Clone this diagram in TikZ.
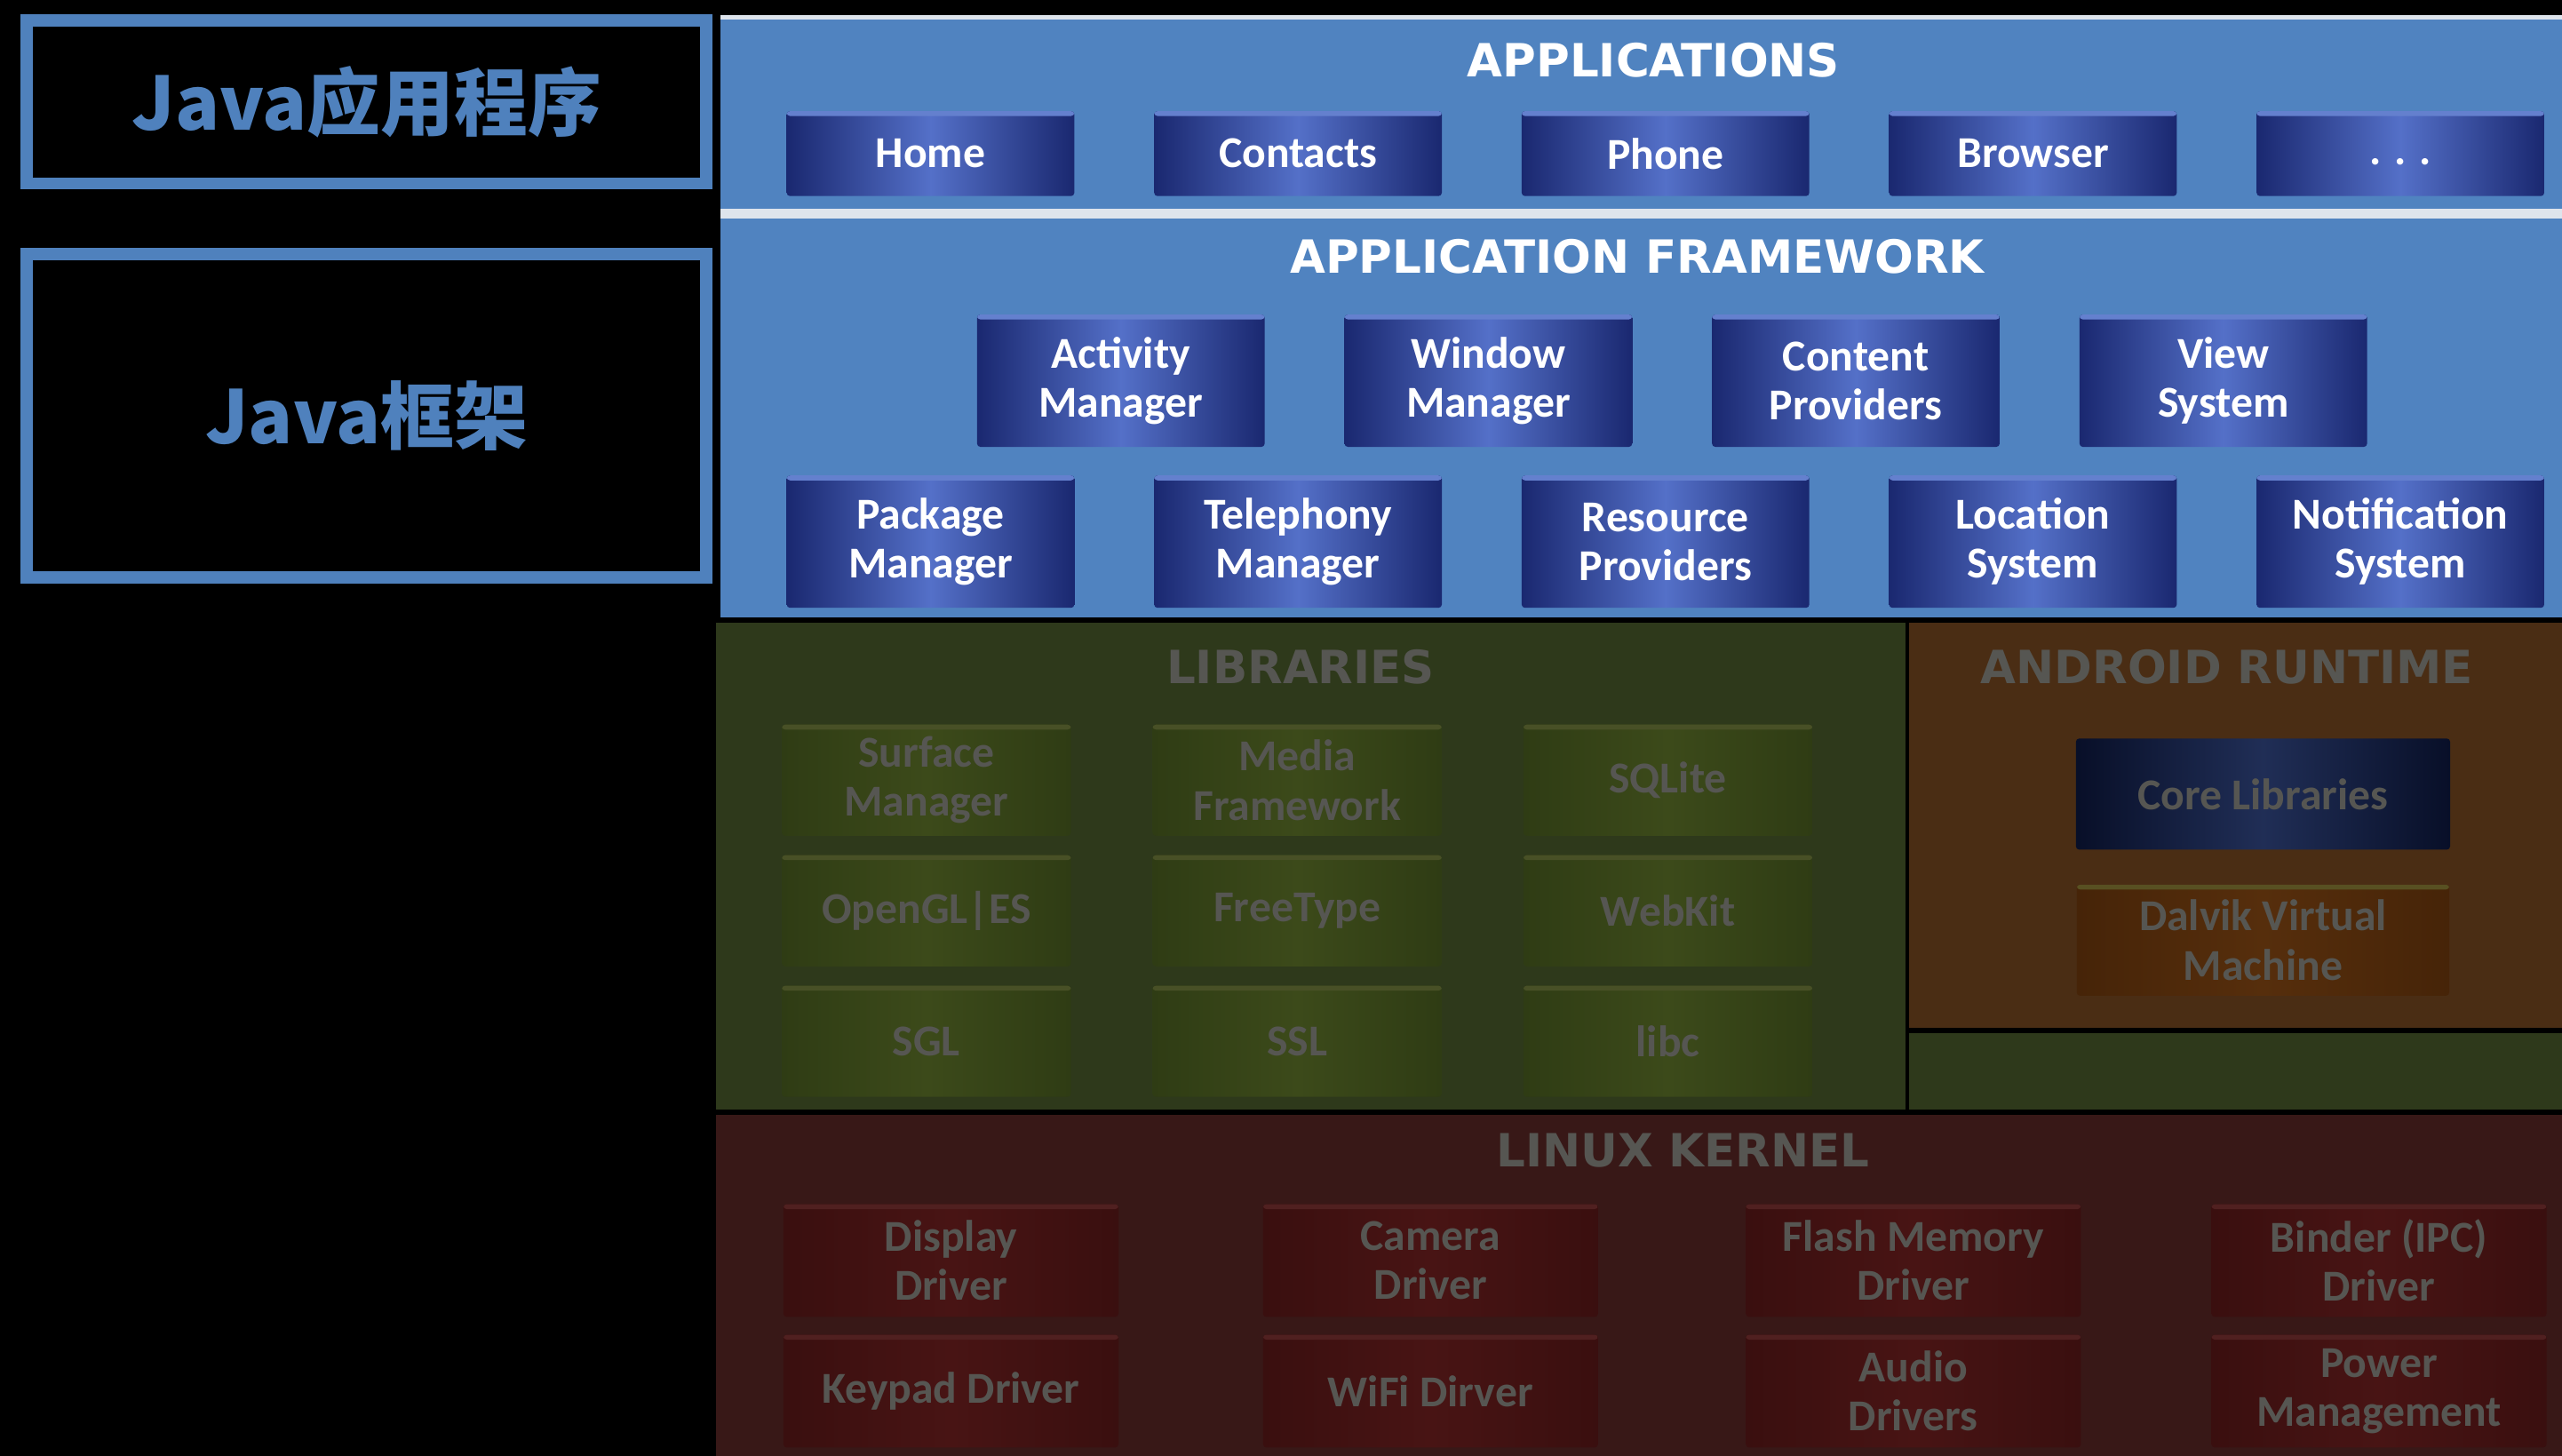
\documentclass[tikz,border=0pt]{standalone}
\usepackage{fontspec}
\setmainfont{Carlito}
\newfontfamily\headfont{DejaVu Sans}
\newfontfamily\cjkfont{Noto Sans CJK SC}
\usetikzlibrary{positioning}

\definecolor{javablue}{RGB}{79,129,189}
\definecolor{panelblue}{RGB}{80,131,192}
\definecolor{sepgray}{RGB}{222,228,236}
\definecolor{btnedge}{RGB}{26,40,112}
\definecolor{btnmid}{RGB}{84,112,200}
\definecolor{btntop}{RGB}{100,128,206}
\definecolor{libbg}{RGB}{46,57,27}
\definecolor{libedge}{RGB}{47,60,20}
\definecolor{libmid}{RGB}{60,74,26}
\definecolor{libtop}{RGB}{72,80,38}
\definecolor{rtbg}{RGB}{74,45,20}
\definecolor{coreedge}{RGB}{8,15,40}
\definecolor{coremid}{RGB}{32,46,86}
\definecolor{dvkedge}{RGB}{70,36,8}
\definecolor{dvkmid}{RGB}{86,46,12}
\definecolor{dvktop}{RGB}{88,80,34}
\definecolor{kernbg}{RGB}{56,24,23}
\definecolor{kernedge}{RGB}{58,15,15}
\definecolor{kernmid}{RGB}{72,20,20}
\definecolor{kerntop}{RGB}{80,32,32}
\definecolor{dimtext}{RGB}{86,86,82}

\tikzset{
  javabox/.style={
    draw=javablue,
    line width=7.5pt,
    fill=black,
    text=javablue,
    font=\cjkfont\bfseries\fontsize{45}{48}\selectfont
  },
  title/.style={
    inner sep=0pt,
    font=\headfont\bfseries\fontsize{28}{30}\selectfont
  },
  btn/.style={
    rectangle,
    rounded corners=2pt,
    inner sep=0pt,
    align=center,
    font=\bfseries\fontsize{27}{30}\selectfont
  },
  toplight/.style={
    path picture={
      \fill[#1] (path picture bounding box.north west)
        rectangle ([yshift=-3pt]path picture bounding box.north east);
    }
  },
  appbtn/.style={
    btn,
    minimum width=176pt,
    minimum height=52pt,
    text=white,
    left color=btnedge,
    right color=btnedge,
    middle color=btnmid,
    toplight=btntop
  },
  fwbtn/.style={
    appbtn,
    minimum height=81pt
  },
  libbtn/.style={
    btn,
    minimum width=177pt,
    minimum height=68pt,
    text=dimtext,
    left color=libedge,
    right color=libedge,
    middle color=libmid,
    toplight=libtop
  },
  corebtn/.style={
    btn,
    minimum width=229pt,
    minimum height=68pt,
    text=dimtext,
    left color=coreedge,
    right color=coreedge,
    middle color=coremid
  },
  dvkbtn/.style={
    btn,
    minimum width=228pt,
    minimum height=68pt,
    text=dimtext,
    left color=dvkedge,
    right color=dvkedge,
    middle color=dvkmid,
    toplight=dvktop
  },
  kernbtn/.style={
    btn,
    minimum width=205pt,
    minimum height=69pt,
    text=dimtext,
    left color=kernedge,
    right color=kernedge,
    middle color=kernmid,
    toplight=kerntop
  }
}

\begin{document}
\begin{tikzpicture}[x=1pt, y=1pt, node distance=11pt and 48.5pt]

\useasboundingbox (0,0) rectangle (1568,-891);
\fill[black] (0,0) rectangle (1568,-891);

\node[javabox, minimum width=416pt, minimum height=100pt] (japps) at (224.4,-62.3) {Java应用程序};
\node[javabox, minimum width=416pt, minimum height=197.6pt] (jframe) at (224.4,-254.5) {Java框架};

\fill[panelblue] (441,-12) rectangle (1568,-128);
\fill[sepgray] (441,-9.5) rectangle (1568,-12);
\fill[sepgray] (441,-128) rectangle (1568,-133.5);
\fill[panelblue] (441,-133.5) rectangle (1568,-378);
\fill[libbg] (438,-381) rectangle (1166,-679);
\fill[rtbg] (1168.5,-381) rectangle (1568,-629);
\fill[libbg] (1168.5,-632.5) rectangle (1568,-679);
\fill[kernbg] (438,-682.5) rectangle (1568,-891);

\node[title, text=white] (appstitle) at (1012,-37) {APPLICATIONS};
\node[title, text=white] (fwtitle) at (1002,-157) {APPLICATION FRAMEWORK};
\node[title, text=dimtext] (libtitle) at (796,-408) {LIBRARIES};
\node[title, text=dimtext] (rttitle) at (1363,-408) {ANDROID RUNTIME};
\node[title, text=dimtext] (kerntitle) at (1030,-704) {LINUX KERNEL};

\node[appbtn] (home) at (569.5,-94) {Home};
\node[appbtn, right=of home] (contacts) {Contacts};
\node[appbtn, right=of contacts] (phone) {Phone};
\node[appbtn, right=of phone] (browser) {Browser};
\node[appbtn, right=of browser] (more) {\vphantom{Hp}. . .};

\node[fwbtn] (activity) at (686,-233) {Activity\\Manager};
\node[fwbtn, right=of activity] (window) {Window\\Manager};
\node[fwbtn, right=of window] (content) {Content\\Providers};
\node[fwbtn, right=of content] (view) {View\\System};

\node[fwbtn] (package) at (569.5,-331.5) {Package\\Manager};
\node[fwbtn, right=of package] (telephony) {Telephony\\Manager};
\node[fwbtn, right=of telephony] (resource) {Resource\\Providers};
\node[fwbtn, right=of resource] (location) {Location\\System};
\node[fwbtn, right=of location] (notification) {Notification\\System};

\node[libbtn] (surface) at (567,-477.5) {Surface\\Manager};
\node[libbtn, right=49.5pt of surface] (media) {Media\\Framework};
\node[libbtn, right=49.5pt of media] (sqlite) {SQLite};
\node[libbtn, below=11.5pt of surface] (opengl) {OpenGL|ES};
\node[libbtn, below=11.5pt of media] (freetype) {FreeType};
\node[libbtn, below=11.5pt of sqlite] (webkit) {WebKit};
\node[libbtn, below=11.5pt of opengl] (sgl) {SGL};
\node[libbtn, below=11.5pt of freetype] (ssl) {SSL};
\node[libbtn, below=11.5pt of webkit] (libc) {libc};

\node[corebtn] (core) at (1385,-486) {Core Libraries};
\node[dvkbtn, below=21pt of core] (dalvik) {Dalvik Virtual\\Machine};

\node[kernbtn] (display) at (582,-771.5) {Display\\Driver};
\node[kernbtn] (camera) at (875.5,-771.5) {Camera\\Driver};
\node[kernbtn] (flash) at (1171,-771.5) {Flash Memory\\Driver};
\node[kernbtn] (binder) at (1456,-771.5) {Binder (IPC)\\Driver};
\node[kernbtn, below=10.5pt of display] (keypad) {Keypad Driver};
\node[kernbtn, below=10.5pt of camera] (wifi) {WiFi Dirver};
\node[kernbtn, below=10.5pt of flash] (audio) {Audio\\Drivers};
\node[kernbtn, below=10.5pt of binder] (power) {Power\\Management};

\end{tikzpicture}
\end{document}
